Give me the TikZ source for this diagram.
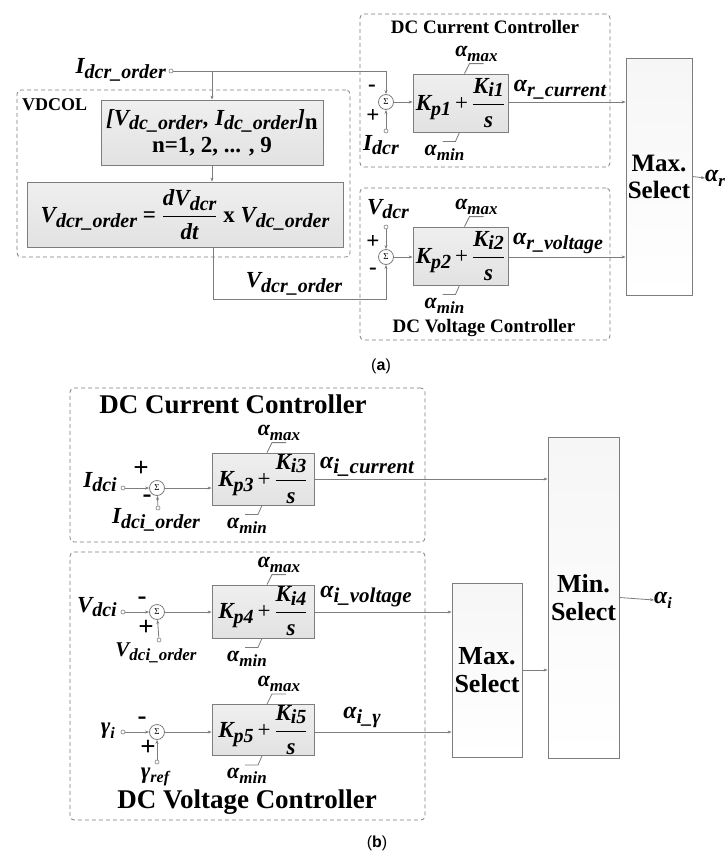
\documentclass[tikz,border=0pt]{standalone}
\usepackage{fontspec}
\setmainfont{Liberation Serif}
\setsansfont{Liberation Sans}
\usepackage{amsmath}
\usetikzlibrary{arrows.meta, positioning}

\definecolor{wiregray}{RGB}{125,125,125}
\definecolor{blockgray}{RGB}{226,226,226}
\definecolor{selgray}{RGB}{246,246,246}

% signal name with lowered subscript
\newcommand{\sig}[3][20]{\textbf{\textit{#2}}\raisebox{-0.45ex}{\fontsize{#1}{#1}\selectfont\bfseries\itshape #3}}
% angle name
\newcommand{\ang}[3][20]{{\fontsize{24}{26}\selectfont\bfseries\itshape #2}\raisebox{-0.45ex}{\fontsize{#1}{#1}\selectfont\bfseries\itshape #3}}
% limiter value
\newcommand{\alimit}[1]{{\fontsize{22}{22}\selectfont\bfseries\itshape α}\raisebox{-0.45ex}{\fontsize{17}{17}\selectfont\bfseries\itshape #1}}
% PI transfer function
\newcommand{\pictl}[2]{\sig{K}{p#1}\,{\mdseries\upshape +}\,$\dfrac{\text{\textbf{\textit{K}}\raisebox{-0.3ex}{\fontsize{20}{20}\selectfont\bfseries\itshape i#2}}}{\text{\bfseries\itshape s}}$}

\begin{document}
\begin{tikzpicture}[x=1pt, y=-1pt,
    wire/.style={draw=wiregray, line width=0.8pt},
    arr/.style={wire, -{Stealth[length=4pt, width=3pt]}},
    lbl/.style={font=\fontsize{23}{25}\selectfont\bfseries\itshape, inner sep=0pt},
    alab/.style={font=\fontsize{24}{26}\selectfont, inner sep=0pt},
    sign/.style={font=\fontsize{23}{23}\selectfont\bfseries, inner sep=0pt},
    bsign/.style={font=\fontsize{27}{27}\selectfont\bfseries, inner sep=0pt},
    title/.style={font=\fontsize{19}{21}\selectfont\bfseries, inner sep=0pt},
    bigtitle/.style={font=\fontsize{27}{29}\selectfont\bfseries, inner sep=0pt},
    seltext/.style={font=\fontsize{26}{28}\selectfont\bfseries, align=center},
    dashbox/.style={draw=wiregray, line width=0.8pt, dash pattern=on 4pt off 3pt, rounded corners=4pt, inner sep=0pt},
    blk/.style={draw=wiregray, line width=0.8pt, top color=blockgray!55, bottom color=blockgray, inner sep=1pt, align=center, font=\fontsize{23}{28}\selectfont\bfseries\itshape},
    selbox/.style={draw=wiregray, line width=0.8pt, top color=selgray, bottom color=white, inner sep=0pt},
    sumnode/.style={circle, draw=wiregray, line width=0.8pt, fill=white, minimum size=15pt, inner sep=0pt, font=\fontsize{9}{9}\selectfont},
    term/.style={circle, draw=wiregray, line width=0.6pt, fill=white, minimum size=4pt, inner sep=0pt},
    capt/.style={font=\sffamily\fontsize{16}{18}\selectfont, inner sep=0pt}]
\useasboundingbox (0,0) rectangle (728,857);

% ---------------- (a) rectifier side ----------------
% VDCOL
\node[dashbox, minimum width=333, minimum height=167] (vdcol) at (183.5,173.5) {};
\node[title, font=\fontsize{18}{20}\selectfont\bfseries, anchor=north west] (vdcoltxt) at (22,98) {VDCOL};
\node[blk, minimum width=222, minimum height=65] (tbl) at (212,132.5)
    {[\sig{V}{dc\_order}\kern1pt, \sig{I}{dc\_order}]\raisebox{-0.4ex}{\upshape n}\\[-1pt] {\upshape n=1, 2, ... , 9}};
\node[blk, minimum width=316, minimum height=65] (frm) at (185,214.5)
    {\sig{V}{dcr\_order} {\upshape =} $\dfrac{\text{\sig{dV}{dcr}}}{\text{\bfseries\itshape dt}}$ {\upshape x} \sig{V}{dc\_order}};

\node[lbl, anchor=east] (Iolab) at (166,70) {\sig{I}{dcr\_order}};
\node[term] (tIo) at (171,71) {};

% DC current controller
\node[dashbox, minimum width=250, minimum height=153] (dcca) at (485,90.5) {};
\node[title] (dccatxt) at (485,27) {DC Current Controller};
\node[sumnode] (sum1) at (386,102) {Σ};
\node[sign] at (372,88) {-};
\node[sign] at (373,116) {+};
\node[term] (tIdcr) at (386,131) {};
\node[lbl] (Idcrlab) at (381,145) {\sig{I}{dcr}};
\node[blk, minimum width=95, minimum height=58] (pi1) at (460.5,103) {\pictl{1}{1}};
\node[alab] (arc) at (560,90) {\ang{α}{r\_current}};

% DC voltage controller
\node[dashbox, minimum width=250, minimum height=152] (dcva) at (485,264) {};
\node[title] (dcvatxt) at (484,328) {DC Voltage Controller};
\node[sumnode] (sum2) at (386,257) {Σ};
\node[sign] at (373,242) {+};
\node[sign] at (373,271) {-};
\node[term] (tVdcr) at (386,227) {};
\node[lbl] (Vdcrlab) at (388,209) {\sig{V}{dcr}};
\node[blk, minimum width=95, minimum height=58] (pi2) at (460.5,256) {\pictl{2}{2}};
\node[alab] (arv) at (558,243) {\ang{α}{r\_voltage}};
\node[lbl] (Vdolab) at (294,284) {\sig{V}{dcr\_order}};
\coordinate (bend) at (213,299);

% max select
\node[selbox, minimum width=66, minimum height=237] (maxa) at (659,176.5) {};
\node[seltext, font=\fontsize{25}{27}\selectfont\bfseries] at (maxa) {Max.\\Select};
\node[alab, anchor=west] (ar) at (705,178) {\ang[17]{α}{r}};

\draw[arr] (tIo) -| (sum1);
\draw[arr] (tbl.north |- tIo) -- (tbl.north);
\draw[arr] (tbl.south) -- (tbl.south |- frm.north);
\draw[arr] (frm.south -| bend) -- (bend) -| (sum2);
\draw[arr] (tIdcr) -- (sum1);
\draw[arr] (sum1) -- (sum1 -| pi1.west);
\draw[arr] (pi1.east |- sum1) -- (sum1 -| maxa.west);
\draw[arr] (tVdcr) -- (sum2);
\draw[arr] (sum2) -- (sum2 -| pi2.west);
\draw[arr] (pi2.east |- sum2) -- (sum2 -| maxa.west);
\draw[arr] (maxa.east) -- (ar.west);

\node[capt] at (381,366) {(\textbf{a})};

% ---------------- (b) inverter side ----------------
\node[dashbox, minimum width=355, minimum height=154] (dccb) at (247.5,465) {};
\node[bigtitle] (dccbtxt) at (233,404) {DC Current Controller};
\node[dashbox, minimum width=355, minimum height=268] (dcvb) at (247.5,686) {};
\node[bigtitle] (dcvbtxt) at (247,802) {DC Voltage Controller};

% current loop
\node[term] (tIdci) at (123,488) {};
\node[lbl, anchor=east] (Idcilab) at (117,482) {\sig{I}{dci}};
\node[sumnode] (sum3) at (157,488) {Σ};
\node[bsign] at (141,469) {+};
\node[bsign] at (147,499) {-};
\node[term] (tIdcio) at (158,508) {};
\node[lbl] (Idciolab) at (156,520) {\sig{I}{dci\_order}};
\node[blk, minimum width=102, minimum height=52] (pi3) at (263,479) {\pictl{3}{3}};
\node[alab] (aic) at (367,467) {\ang[21]{α}{i\_current}};

% voltage loop
\node[term] (tVdci) at (123,612) {};
\node[lbl, anchor=east] (Vdcilab) at (117,607) {\sig{V}{dci}};
\node[sumnode] (sum4) at (157,612) {Σ};
\node[bsign] at (142,601) {-};
\node[bsign] at (146,628) {+};
\node[term] (tVdcio) at (159,640) {};
\node[lbl, font=\fontsize{21}{23}\selectfont\bfseries\itshape] (Vdciolab) at (156,653) {\sig[17]{V}{dci\_order}};
\node[blk, minimum width=102, minimum height=53] (pi4) at (263,611.5) {\pictl{4}{4}};
\node[alab] (aiv) at (366,597) {\ang[21]{α}{i\_voltage}};

% extinction angle loop
\node[term] (tgam) at (123,732) {};
\node[lbl, anchor=east] (gamlab) at (115,731) {\sig[16]{γ}{i}};
\node[sumnode] (sum5) at (157,732) {Σ};
\node[bsign] at (142,721) {-};
\node[bsign] at (148,748) {+};
\node[term] (tgref) at (157,762) {};
\node[lbl] (greflab) at (155,777) {\sig[16]{γ}{ref}};
\node[blk, minimum width=102, minimum height=50] (pi5) at (263,730) {\pictl{5}{5}};
\node[alab] (aig) at (362,717) {\ang{α}{i\_γ}};

% selectors
\node[selbox, minimum width=70, minimum height=174] (maxb) at (487,670) {};
\node[seltext] at (maxb) {Max.\\Select};
\node[selbox, minimum width=71, minimum height=321] (minb) at (583.5,597.5) {};
\node[seltext] at (minb) {Min.\\Select};
\node[alab, anchor=west] (ai) at (654,600) {\ang[16]{α}{i}};

\draw[arr] (tIdci) -- (sum3);
\draw[arr] (tIdcio) -- (sum3);
\draw[arr] (sum3) -- (sum3 -| pi3.west);
\draw[arr] (pi3.east) -- (pi3.east -| minb.west);
\draw[arr] (tVdci) -- (sum4);
\draw[arr] (tVdcio) -- (sum4);
\draw[arr] (sum4) -- (sum4 -| pi4.west);
\draw[arr] (pi4.east |- sum4) -- (sum4 -| maxb.west);
\draw[arr] (tgam) -- (sum5);
\draw[arr] (tgref) -- (sum5);
\draw[arr] (sum5) -- (sum5 -| pi5.west);
\draw[arr] (pi5.east |- sum5) -- (sum5 -| maxb.west);
\draw[arr] (maxb.east) -- (maxb.east -| minb.west);
\draw[arr] (minb.east) -- (ai.west);

% limiter marks on every PI block
\foreach \p in {pi1,pi2,pi3,pi4,pi5} {
  \draw[wire] ([xshift=4pt]\p.north) -- ++(5,-10) -- ++(14,0);
  \draw[wire] ([xshift=-1pt]\p.south) -- ++(-4,9) -- ++(-13,0);
  \node[alab] at ([shift={(16,-20)}]\p.north) {\alimit{max}};
  \node[alab] at ([shift={(-16,20)}]\p.south) {\alimit{min}};
}

\node[capt] at (377,843) {(\textbf{b})};
\end{tikzpicture}
\end{document}
